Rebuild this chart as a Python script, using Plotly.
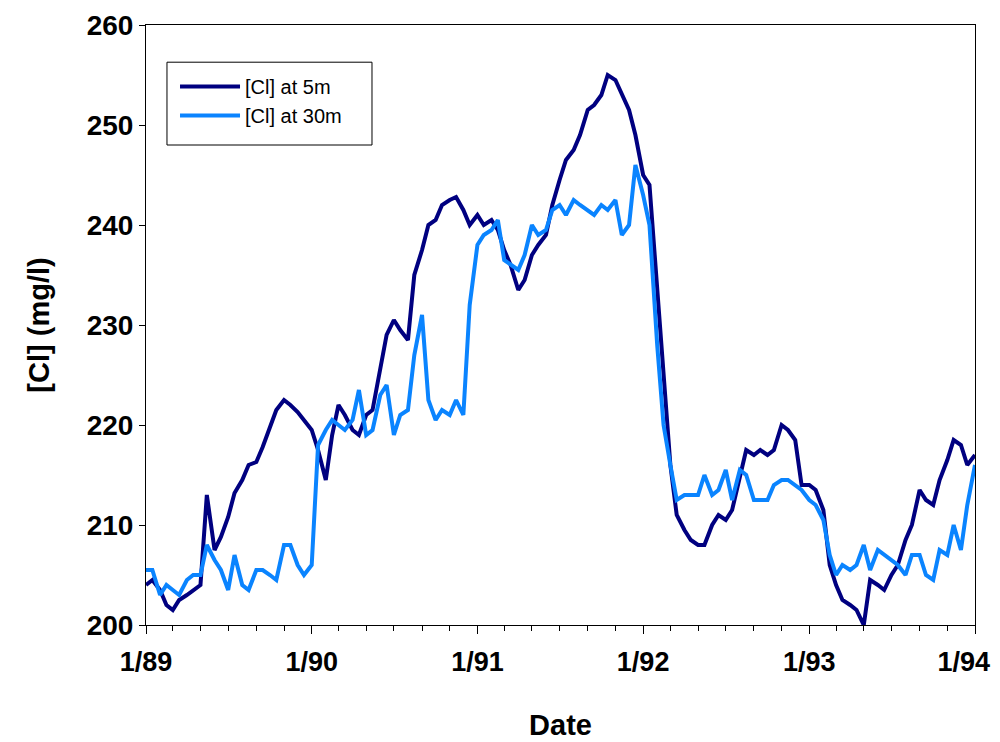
import pandas as pd
import plotly.graph_objects as go

# semi-monthly sample dates, Jan 1989 .. Jan 1994
dates = pd.date_range("1989-01-01", "1994-01-01", freq="SMS")

cl_5m = [
    204, 204.5, 203.5, 202, 201.5, 202.5, 203, 203.5, 204, 213, 207.5, 208.8,
    210.8, 213.2, 214.5, 216, 216.3, 217.8, 219.8, 221.5, 222.5, 222, 221.3, 220.5,
    219.5, 217.5, 214.5, 219, 222, 221, 219.5, 219, 221, 221.5, 225.5, 229,
    230.5, 229.5, 228.5, 235, 237.5, 240, 240.5, 242, 242.5, 242.8, 241.5, 240,
    241, 240, 240.5, 239.5, 237.5, 236, 233.5, 234.5, 237, 238, 239, 242,
    244.5, 246.5, 247.5, 249, 251.5, 252, 253, 255, 254.5, 253, 251.5, 249,
    245, 244, 234, 226, 216, 211, 209.5, 208.5, 208, 208, 210, 211,
    210.5, 211.5, 215, 217.5, 217, 217.5, 217, 217.5, 220, 219.5, 218.5, 214,
    214, 213.5, 211.5, 206, 204, 202.5, 202, 201.5, 200, 204.5, 204, 203.5,
    205, 206, 208.5, 210, 213.5, 212.5, 212, 214.5, 216.5, 218.5, 218, 216,
    217,
]

cl_30m = [
    205.5, 205.5, 203, 204, 203.5, 203, 204.5, 205, 205, 208, 206.5, 205.5,
    203.5, 207, 204, 203.5, 205.5, 205.5, 205, 204.5, 208, 208, 206, 205,
    206, 218, 219.5, 220.5, 220, 219.5, 220.5, 223.5, 219, 219.5, 223, 224,
    219, 221, 221.5, 227, 231, 222.5, 220.5, 221.5, 221, 222.5, 221, 232,
    238, 239, 239.5, 240.5, 236.5, 236, 235.5, 237, 240, 239, 239.5, 241.5,
    242, 241, 242.5, 242, 241.5, 241, 242, 241.5, 242.5, 239, 240, 246,
    243, 240, 228, 220, 216, 212.5, 213, 213, 213, 215, 213, 213.5,
    215.5, 212.5, 215.5, 215, 212.5, 212.5, 212.5, 214, 214.5, 214.5, 214, 213.5,
    212.5, 212, 210.5, 207, 205, 206, 205.5, 206, 208, 205.5, 207.5, 207,
    206.5, 206, 205, 207, 207, 205, 204.5, 207.5, 207, 210, 207.5, 212,
    216,
]

series_names = ["[Cl] at 5m", "[Cl] at 30m"]
series_colors = ["#000080", "#0A84FF"]
y_ticks = [200, 210, 220, 230, 240, 250, 260]
x_ticks = pd.date_range("1989-01-01", "1994-01-01", freq="YS")
x_tick_labels = ["1/89", "1/90", "1/91", "1/92", "1/93", "1/94"]

FONT = "Liberation Sans, Arial, sans-serif"

fig = go.Figure()
for name, vals, col in zip(series_names, [cl_5m, cl_30m], series_colors):
    fig.add_trace(go.Scatter(
        x=dates, y=vals, mode="lines", name=name,
        line=dict(color=col, width=4),
    ))

fig.update_layout(
    width=992, height=734,
    margin=dict(l=138, r=25, t=17, b=117),
    paper_bgcolor="white", plot_bgcolor="white",
    showlegend=True,
    legend=dict(
        x=0.035, y=0.93, xanchor="left", yanchor="top",
        bgcolor="rgba(0,0,0,0)", borderwidth=0,
        font=dict(family=FONT, size=20, color="black"),
        itemwidth=60,
        tracegroupgap=0,
    ),
    shapes=[dict(
        type="rect", xref="paper", yref="paper",
        x0=0.0253, x1=0.2726, y0=0.800, y1=0.938,
        line=dict(color="black", width=1), fillcolor="white", layer="below",
    )],
)

# last label padded on the right so it stays inside the page
ticktext = [f"<b>{t}</b>" for t in x_tick_labels]
ticktext[-1] = ticktext[-1] + "\u00a0\u00a0\u00a0"

fig.update_xaxes(
    type="date",
    range=["1989-01-01", "1994-01-01"],
    tickvals=x_ticks,
    ticktext=ticktext,
    ticks="outside", ticklen=8, tickcolor="black",
    ticklabelstandoff=5, ticklabeloverflow="allow",
    minor=dict(dtick="M2", ticks="outside", ticklen=5, tickcolor="black", showgrid=False),
    showline=True, linecolor="black", linewidth=1, mirror=True,
    showgrid=False, zeroline=False, automargin=False,
    tickfont=dict(family=FONT, size=27, color="black"),
    title=dict(text="<b>Date</b>", font=dict(family=FONT, size=29, color="black"), standoff=38),
)
fig.update_yaxes(
    range=[200, 260],
    tickvals=y_ticks,
    ticktext=[f"<b>{v}</b>" for v in y_ticks],
    ticks="outside", ticklen=6, tickcolor="black",
    showline=True, linecolor="black", linewidth=1, mirror=True,
    showgrid=False, zeroline=False, automargin=False,
    tickfont=dict(family=FONT, size=28, color="black"),
    title=dict(text="<b>[Cl] (mg/l)</b>", font=dict(family=FONT, size=29, color="black"), standoff=28),
)

fig.write_html("out.html")
